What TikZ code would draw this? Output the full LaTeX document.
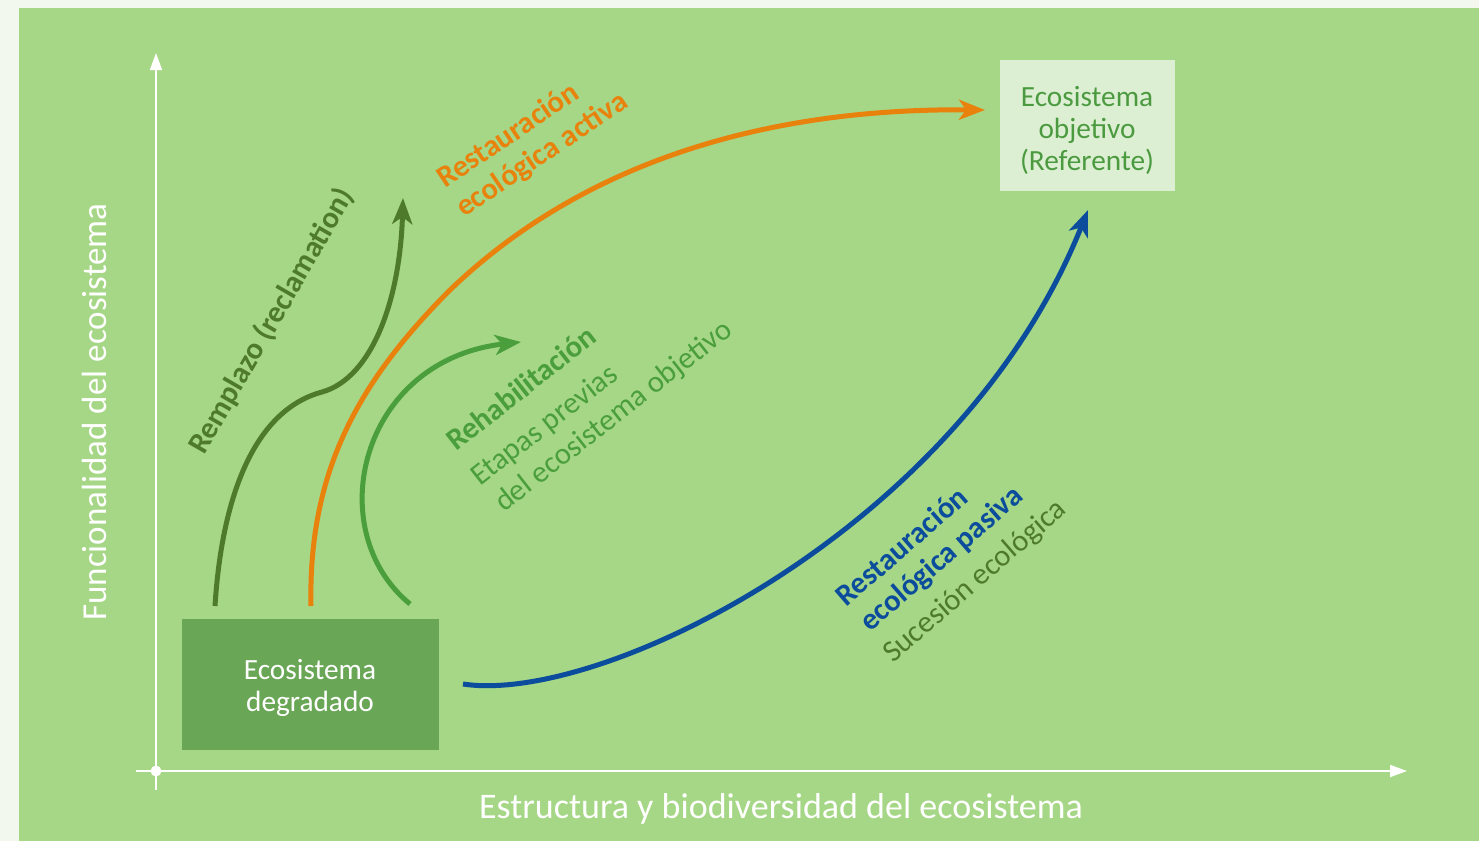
\documentclass[tikz,border=0pt]{standalone}
\usepackage{fontspec}
\setmainfont{Carlito}
\usetikzlibrary{arrows.meta,calc}
\definecolor{outerbg}{HTML}{F3F8EF}
\definecolor{bggreen}{HTML}{A5D786}
\definecolor{degbox}{HTML}{69A656}
\definecolor{objbox}{HTML}{DCEFD3}
\definecolor{objtext}{HTML}{4C9A40}
\definecolor{dkgreen}{HTML}{4E7B2B}
\definecolor{orangec}{HTML}{E9820C}
\definecolor{midgreen}{HTML}{4A9E3C}
\definecolor{bluec}{HTML}{0B4C9C}
\tikzset{
  axisline/.style={draw=white, line width=1.8pt},
  axistip/.style={-{Triangle[length=17pt,width=12pt]}},
  curve/.style={line width=5pt, -{Stealth[length=26pt,width=20pt,inset=7pt]}},
  lbl/.style={anchor=base west, inner sep=0pt, font=\fontsize{30.5}{36}\selectfont},
  blbl/.style={lbl, font=\fontsize{30.5}{36}\selectfont\bfseries},
  boxtext/.style={inner sep=0pt, align=center, font=\fontsize{29.3}{32}\selectfont},
  axislabel/.style={inner sep=0pt, anchor=base, text=white, font=\fontsize{36}{40}\selectfont}
}
\begin{document}
\begin{tikzpicture}[x=1pt,y=-1pt]
\useasboundingbox (0,0) rectangle (1479,841);
\fill[outerbg] (0,0) rectangle (1479,841);
\fill[bggreen] (19,8) rectangle (1479,841);

% axes
\coordinate (ybot) at (156,790);
\coordinate (ytop) at (156,53);
\coordinate (xleft) at (136,771);
\coordinate (xright) at (1407,771);
\coordinate (origin) at (156,771);
\draw[axisline, axistip] (ybot) -- (ytop);
\draw[axisline, axistip] (xleft) -- (xright);
\fill[white] (origin) circle (5.5);

\node[axislabel, rotate=90, font=\fontsize{35}{40}\selectfont] (ylab) at (106,412) {Funcionalidad del ecosistema};
\node[axislabel] (xlab) at (781,818) {Estructura y biodiversidad del ecosistema};

% boxes
\node[fill=degbox, minimum width=257pt, minimum height=131pt, inner sep=0pt] (deg) at (310.5,684.5) {};
\node[boxtext, text=white] (degtxt) at (310,688) {Ecosistema\\degradado};
\node[fill=objbox, minimum width=175pt, minimum height=131pt, inner sep=0pt] (obj) at (1087.5,125.5) {};
\node[boxtext, text=objtext] (objtxt) at (1087,130) {Ecosistema\\objetivo\\(Referente)};

% curve endpoints
\coordinate (s1) at (215,606);
\coordinate (e1) at (403,198);
\coordinate (s2) at (311,606);
\coordinate (e2) at (985,110);
\coordinate (s3) at (410,604);
\coordinate (e3) at (521,342);
\coordinate (s4) at (463,684);
\coordinate (e4) at (1088,210);

% curves
\draw[curve, dkgreen] (s1) .. controls (222,495) and (255,410) .. (322,392) .. controls (372,378) and (400,300) .. (e1);
\draw[curve, orangec] (s2) .. controls (308,470) and (360,380) .. (450,290) .. controls (580,165) and (760,108) .. (e2);
\draw[curve, midgreen] (s3) .. controls (320,530) and (360,360) .. (e3);
\draw[curve, bluec] (s4) .. controls (600,705) and (960,530) .. (e4);

% labels
\node[blbl, text=dkgreen, rotate=60] (l1) at (204,456) {Remplazo (reclamation)};
\node[blbl, text=orangec, rotate=34] (l2a) at (445,189) {Restauración};
\node[blbl, text=orangec, rotate=34] (l2b) at (464,218) {ecológica activa};
\node[blbl, text=midgreen, rotate=38] (l3a) at (456,452) {Rehabilitación};
\node[lbl, text=midgreen, rotate=38] (l3b) at (480,487) {Etapas previas};
\node[lbl, text=midgreen, rotate=38] (l3c) at (504,513) {del ecosistema objetivo};
\node[blbl, text=bluec, rotate=41] (l4a) at (846,608) {Restauración};
\node[blbl, text=bluec, rotate=41] (l4b) at (870,633) {ecológica pasiva};
\node[lbl, text=dkgreen, rotate=41] (l4c) at (893,664) {Sucesión ecológica};
\end{tikzpicture}
\end{document}
